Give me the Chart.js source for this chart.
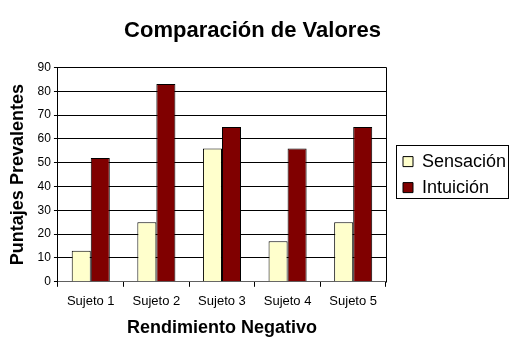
<!DOCTYPE html>
<html>
<head>
<meta charset="utf-8">
<script src="https://cdn.jsdelivr.net/npm/chart.js@4"></script>
<style>
  html, body { margin: 0; padding: 0; background: #ffffff; }
  #wrap { width: 510px; height: 339px; }
</style>
</head>
<body>
<div id="wrap"><canvas id="chart" width="510" height="339"></canvas></div>
<script>
// Subjects and scores
const subjects = ['Sujeto 1', 'Sujeto 2', 'Sujeto 3', 'Sujeto 4', 'Sujeto 5'];
const sensacion = [13, 25, 56, 17, 25];
const intuicion = [52, 83, 65, 56, 65];

const FONT = '"Liberation Sans", Arial, sans-serif';

// Frame around the plot area and a box around the legend entries;
// the legend is also nudged away from the plot a little
const framePlugin = {
    id: 'frame',
    afterLayout(chart) {
        const lg = chart.legend;
        lg.left += 9;
        lg.right += 9;
    },
    afterDraw(chart) {
        const ctx = chart.ctx;
        const area = chart.chartArea;
        ctx.save();
        ctx.strokeStyle = '#000000';
        ctx.lineWidth = 1;
        ctx.beginPath();
        ctx.moveTo(area.left + 0.5, Math.round(area.top) + 0.5);
        ctx.lineTo(Math.round(area.right) + 0.5, Math.round(area.top) + 0.5);
        ctx.lineTo(Math.round(area.right) + 0.5, Math.round(area.bottom) + 0.5);
        ctx.stroke();

        const boxes = chart.legend.legendHitBoxes;
        if (boxes && boxes.length) {
            const left = Math.round(boxes[0].left) - 7;
            const top = Math.round(boxes[0].top) - 8;
            const last = boxes[boxes.length - 1];
            const bottom = Math.round(last.top + last.height) + 1;
            ctx.strokeRect(left + 0.5, top + 0.5, 112, bottom - top);
        }
        ctx.restore();
    }
};

new Chart(document.getElementById('chart'), {
    type: 'bar',
    data: {
        labels: subjects,
        datasets: [{
            label: 'Sensación',
            data: sensacion,
            backgroundColor: '#ffffcc',
            borderColor: '#000000',
            borderWidth: 1
        }, {
            label: 'Intuición',
            data: intuicion,
            backgroundColor: '#800000',
            borderColor: '#000000',
            borderWidth: 1
        }]
    },
    options: {
        responsive: false,
        animation: false,
        layout: { padding: { left: 7, right: 12, top: 0, bottom: 0 } },
        datasets: {
            bar: { categoryPercentage: 0.58, barPercentage: 1 }
        },
        plugins: {
            title: {
                display: true,
                text: 'Comparación de Valores',
                color: '#000000',
                font: { family: FONT, size: 22, weight: 'bold' },
                padding: { top: 18, bottom: 23 }
            },
            legend: {
                position: 'right',
                fullSize: false,
                maxWidth: 112,
                labels: {
                    color: '#000000',
                    font: { family: FONT, size: 18 },
                    boxWidth: 10,
                    boxHeight: 10,
                    padding: 8,
                    useBorderRadius: false
                }
            },
            tooltip: { enabled: false }
        },
        scales: {
            x: {
                grid: {
                    drawOnChartArea: false,
                    drawTicks: true,
                    tickLength: 5,
                    color: '#000000'
                },
                border: { color: '#606060', width: 1 },
                ticks: {
                    color: '#000000',
                    font: { family: FONT, size: 13 },
                    padding: 7
                },
                title: {
                    display: true,
                    text: 'Rendimiento Negativo',
                    color: '#000000',
                    font: { family: FONT, size: 18, weight: 'bold' },
                    padding: { top: 1, bottom: 0 }
                }
            },
            y: {
                min: 0,
                max: 90,
                grid: {
                    color: '#000000',
                    drawTicks: true,
                    tickLength: 4
                },
                border: { color: '#000000', width: 1 },
                ticks: {
                    stepSize: 10,
                    color: '#000000',
                    font: { family: FONT, size: 12 },
                    padding: 3
                },
                title: {
                    display: true,
                    text: 'Puntajes Prevalentes',
                    color: '#000000',
                    font: { family: FONT, size: 18, weight: 'bold' },
                    padding: { top: 0, bottom: 6 }
                }
            }
        }
    },
    plugins: [framePlugin]
});
</script>
</body>
</html>
